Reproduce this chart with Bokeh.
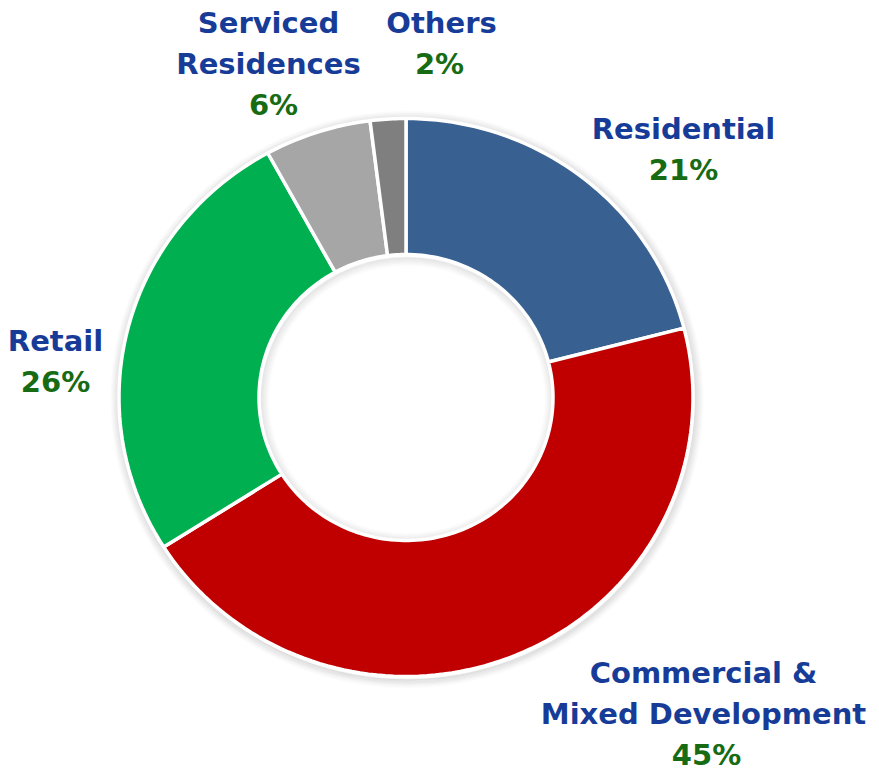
import numpy as np
from bokeh.plotting import figure
from bokeh.models import Range1d, ColumnDataSource
from bokeh.core.properties import value
from bokeh.embed import file_html
from bokeh.resources import INLINE

# ---- data ----
categories = ["Residential", "Commercial & Mixed Development", "Retail", "Serviced Residences", "Others"]
shares = [21, 45, 26, 6, 2]
colors = ["#386192", "#C00000", "#00B050", "#A6A6A6", "#7F7F7F"]
label_lines = [["Residential"], ["Commercial &", "Mixed Development"], ["Retail"], ["Serviced", "Residences"], ["Others"]]
pct_labels = [f"{v}%" for v in shares]

# ---- layout (screen pixel coordinates) ----
cx, cy = 405.5, 397.0
rx_out, ry_out = 287.0, 279.0
rx_in, ry_in = 147.0, 143.0
# per-category line centres (x, first line y) ; line spacing
label_pos = [(683, 128), (703, 672), (55, 340), (268, 22), (441, 22)]
line_gap = 41
pct_x_shift = [0, 3, 0, 5, -2]

W, H = 879, 771
p = figure(width=W, height=H, output_backend="svg", toolbar_location=None,
           x_range=Range1d(0, W), y_range=Range1d(H, 0),
           min_border=0, outline_line_color=None)
p.axis.visible = False
p.grid.visible = False
p.background_fill_color = "white"

# soft shadow around the ring
for k in range(1, 10):
    a = 0.10 * (1 - k / 10.0)
    p.ellipse(x=cx + 1, y=cy + 2, width=2 * (rx_out + k), height=2 * (ry_out + k),
              fill_color=None, line_color="#000000", line_alpha=a, line_width=1.5)
    p.ellipse(x=cx + 1, y=cy + 2, width=2 * (rx_in - k), height=2 * (ry_in - k),
              fill_color=None, line_color="#000000", line_alpha=a * 0.8, line_width=1.5)

# wedges: clockwise from top
total = float(sum(shares))
start = np.pi / 2
xs, ys = [], []
for v in shares:
    sweep = 2 * np.pi * v / total
    th = np.linspace(start, start - sweep, max(8, int(200 * v / total) + 8))
    ox = cx + rx_out * np.cos(th)
    oy = cy - ry_out * np.sin(th)
    ix = cx + rx_in * np.cos(th[::-1])
    iy = cy - ry_in * np.sin(th[::-1])
    xs.append(list(np.concatenate([ox, ix])))
    ys.append(list(np.concatenate([oy, iy])))
    start -= sweep

src = ColumnDataSource(dict(xs=xs, ys=ys, color=colors, cat=categories))
p.patches("xs", "ys", source=src, fill_color="color", line_color="white", line_width=3.5)

# labels
font = value("DejaVu Sans")
fs = "29px"
for i, lines in enumerate(label_lines):
    x0, y0 = label_pos[i]
    for j, t in enumerate(lines):
        p.text(x=[x0], y=[y0 + j * line_gap], text=[t], text_font=font, text_font_style="bold",
               text_font_size=fs, text_color="#173C98", text_align="center", text_baseline="middle")
    p.text(x=[x0 + pct_x_shift[i]], y=[y0 + len(lines) * line_gap], text=[pct_labels[i]], text_font=font,
           text_font_style="bold", text_font_size=fs, text_color="#176B12",
           text_align="center", text_baseline="middle")

open("out.html", "w").write(file_html(p, INLINE))
